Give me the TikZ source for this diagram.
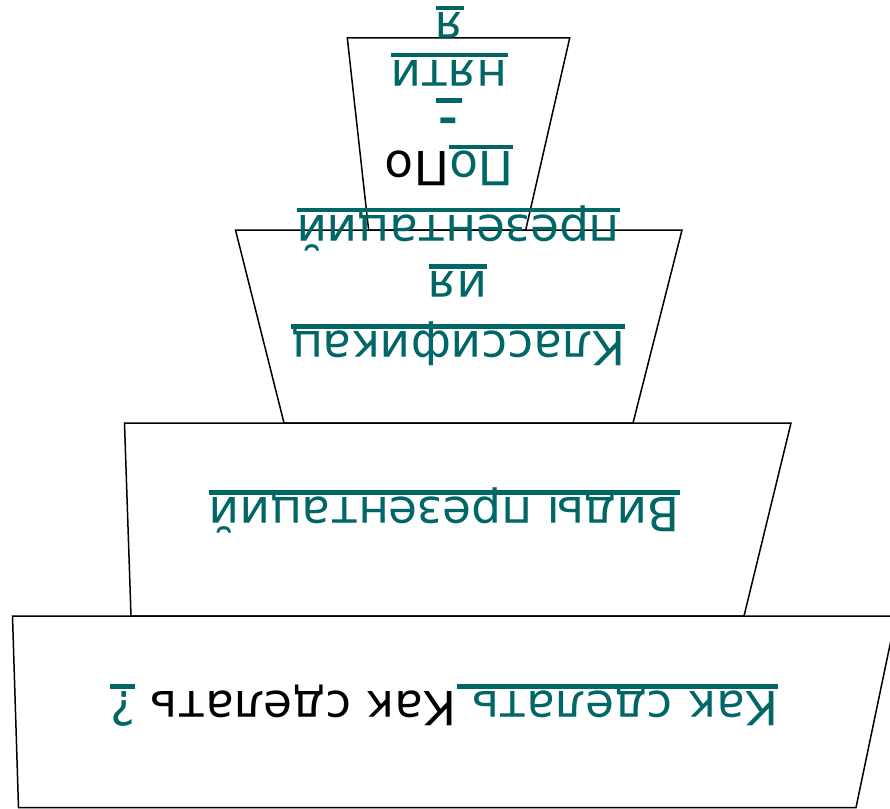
\documentclass[tikz,border=0pt]{standalone}
\usepackage{fontspec}
\setmainfont{DejaVu Sans}
\definecolor{lnkc}{RGB}{0,102,102}
\newcommand\mylnk[1]{\textcolor{lnkc}{\setbox0=\hbox{#1}\rlap{\rule[-7.2pt]{\wd0}{4.5pt}}\box0}}
\tikzset{
  tier/.style={draw=black, line width=1.5pt, line join=miter},
  lbl/.style={rotate=180, anchor=base, inner sep=0pt, font=\fontsize{47}{56}\selectfont}
}
\begin{document}
\begin{tikzpicture}[x=1pt, y=-1pt]
\useasboundingbox (0,0) rectangle (890,808);
\clip (0,0) rectangle (890,808);
% tiers
\draw[tier] (12.5,616) -- (896,616) -- (856,807.5) -- (18.5,807.5) -- cycle;
\draw[tier] (124.5,423) -- (791,423) -- (744,616) -- (131,616) -- cycle;
\draw[tier] (235.5,230) -- (682,230) -- (633,423) -- (284,423) -- cycle;
\draw[tier] (347.3,38) -- (569.7,38) -- (525.7,230) -- (368.6,230) -- cycle;
% texts
\node[lbl] (t4) at (444.3,691.5) {\mylnk{Как сделать }Как сделать \mylnk{?}};
\node[lbl] (t3) at (444.4,497.5) {\mylnk{Виды презентаций}};
\node[lbl] (t2a) at (458.3,331.5) {\mylnk{Классификац}};
\node[lbl] (t2b) at (458,271.5) {\mylnk{ия}};
\node[lbl] (t2c) at (458.3,215) {\mylnk{презентаций}};
\node[lbl] (t1a) at (449.3,151.7) {\mylnk{По}По};
\node[lbl] (t1b) at (448.8,105.5) {\mylnk{\kern3pt\raisebox{-4pt}{\scalebox{1.2}[1.5]{-}}\kern3pt}};
\node[lbl] (t1c) at (449.2,60) {\mylnk{няти}};
\node[lbl] (t1d) at (449.8,13) {\mylnk{я}};
\end{tikzpicture}
\end{document}
